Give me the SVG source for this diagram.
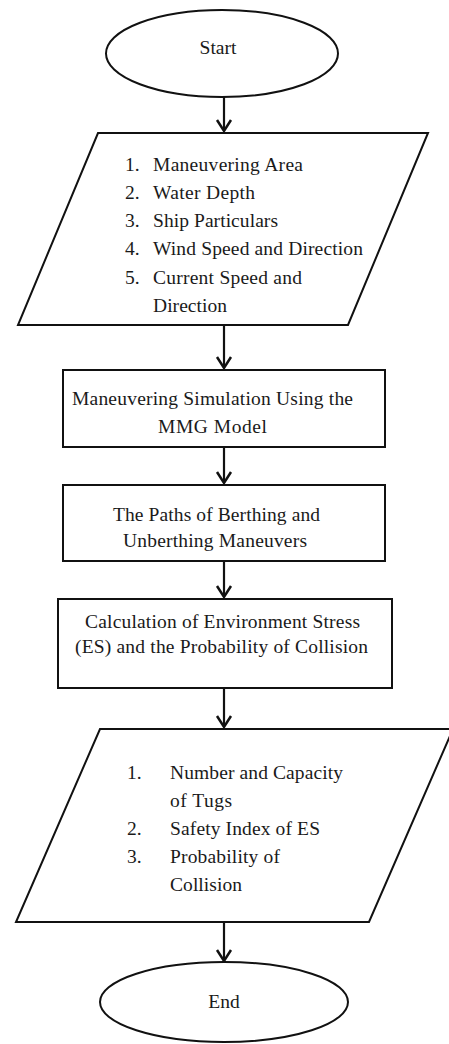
<svg xmlns="http://www.w3.org/2000/svg" width="449" height="1044" viewBox="0 0 449 1044">
<style>
.shape{fill:#fff;stroke:#111;stroke-width:2}
.t{font-family:"Liberation Serif","Times New Roman",serif;font-size:19.5px;fill:#1a1a1a}
.c{text-anchor:middle}
.conn{stroke:#111;stroke-width:2.2;fill:none}
</style>
<defs>
<marker id="arr" markerUnits="userSpaceOnUse" markerWidth="16" markerHeight="20" viewBox="-13 -10 16 20" refX="0" refY="0" orient="auto">
<path d="M-11,-7 L0,0 L-11,7" fill="none" stroke="#111" stroke-width="2.5"/>
</marker>
</defs>
<rect width="449" height="1044" fill="#fff"/>
<g id="connectors">
<path class="conn" d="M224,97 V131" marker-end="url(#arr)"/>
<path class="conn" d="M224,325 V368" marker-end="url(#arr)"/>
<path class="conn" d="M224,447 V483" marker-end="url(#arr)"/>
<path class="conn" d="M224,561 V597" marker-end="url(#arr)"/>
<path class="conn" d="M224,688 V727" marker-end="url(#arr)"/>
<path class="conn" d="M224,922 V961" marker-end="url(#arr)"/>
</g>
<g id="start">
<ellipse class="shape" cx="222" cy="53.5" rx="116" ry="43.5"/>
<text class="t c" x="218" y="54" font-size="20" textLength="37" lengthAdjust="spacingAndGlyphs">Start</text>
</g>
<g id="inputs">
<polygon class="shape" points="98,133 428,133 348,325 18,325"/>
<text class="t" x="125" y="171">1.</text><text class="t" x="153" y="171" textLength="150">Maneuvering  Area</text>
<text class="t" x="125" y="199">2.</text><text class="t" x="153" y="199" textLength="102">Water Depth</text>
<text class="t" x="125" y="227">3.</text><text class="t" x="153" y="227" textLength="125">Ship Particulars</text>
<text class="t" x="125" y="255">4.</text><text class="t" x="153" y="255" textLength="210">Wind Speed and Direction</text>
<text class="t" x="125" y="284">5.</text><text class="t" x="153" y="284" textLength="149">Current Speed and</text>
<text class="t" x="153" y="312" textLength="74">Direction</text>
</g>
<g id="simulation">
<rect class="shape" x="63" y="370" width="322" height="77"/>
<text class="t c" x="212.5" y="405" textLength="281">Maneuvering Simulation Using the</text>
<text class="t c" x="212.5" y="433" textLength="109">MMG Model</text>
</g>
<g id="paths">
<rect class="shape" x="63" y="485" width="322" height="76"/>
<text class="t c" x="216.5" y="521" textLength="207">The Paths of Berthing and</text>
<text class="t c" x="215" y="547" textLength="184">Unberthing Maneuvers</text>
</g>
<g id="calculation">
<rect class="shape" x="58" y="599" width="334" height="89"/>
<text class="t c" x="222.5" y="628" textLength="275">Calculation  of Environment Stress</text>
<text class="t c" x="221.5" y="653" textLength="293">(ES) and the Probability of Collision</text>
</g>
<g id="outputs">
<polygon class="shape" points="100,729 453,729 369,922 16,922"/>
<text class="t" x="127" y="779">1.</text><text class="t" x="170" y="779" textLength="173">Number and Capacity</text>
<text class="t" x="170" y="807" textLength="62">of Tugs</text>
<text class="t" x="127" y="835">2.</text><text class="t" x="170" y="835" textLength="150">Safety Index of ES</text>
<text class="t" x="127" y="863">3.</text><text class="t" x="170" y="863" textLength="110">Probability of</text>
<text class="t" x="170" y="891" textLength="72">Collision</text>
</g>
<g id="end">
<ellipse class="shape" cx="224" cy="1002" rx="124" ry="40"/>
<text class="t c" x="224" y="1008" font-size="20">End</text>
</g>
</svg>
